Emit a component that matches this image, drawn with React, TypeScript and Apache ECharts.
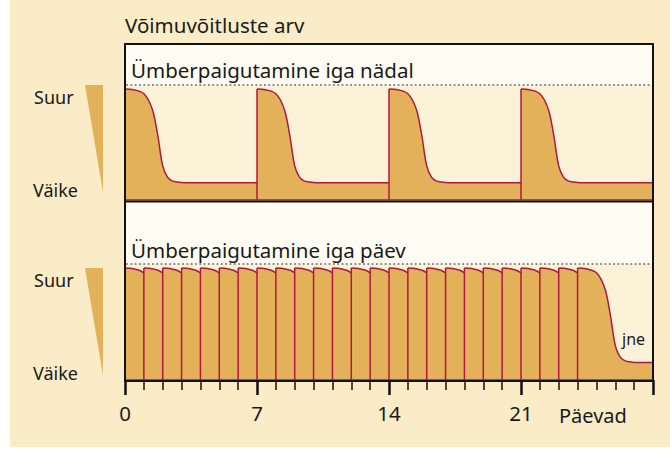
import React, { useEffect, useRef } from 'react';
import * as echarts from 'echarts';

// ---- data ----
const TITLE = 'Võimuvõitluste arv';
const PANEL_TITLES = ['Ümberpaigutamine iga nädal', 'Ümberpaigutamine iga päev'];
const LEVEL_HIGH_LABEL = 'Suur';
const LEVEL_LOW_LABEL = 'Väike';
const X_NAME = 'Päevad';
const ETC_LABEL = 'jne';

const DAY_MIN = 0;
const DAY_MAX = 28;
const DAY_INTERVAL = 7;
const TICK_LABELS = [0, 7, 14, 21];

// relocation days
const WEEKLY_STARTS = [0, 7, 14, 21];
const DAILY_STARTS = [0, 1, 2, 3, 4, 5, 6, 7, 8, 9, 10, 11, 12, 13, 14, 15, 16, 17, 18, 19, 20, 21, 22, 23, 24];

// number of power struggles (relative scale 0..100)
const HIGH = 96.5;
const LOW = 15;
// fraction of (HIGH-LOW) remaining, sampled every DECAY_STEP days after a relocation
const DECAY_STEP = 0.25;
const DECAY = [1, 0.998, 0.99, 0.977, 0.95, 0.88, 0.75, 0.49, 0.18, 0.06, 0.02, 0.008, 0.002, 0];

// ---- styles ----
const FONT = "'Noto Sans', sans-serif";
const TXT = '#1a1a1a';
const CARD = '#F9ECC6';
const HEADER = '#FFFCF3';
const PLOT = '#FBF2D8';
const FILL = '#E3B15A';
const RED = '#B3173F';

const GAP: any = ['-', '-'];

function decayCurves(starts: number[], end: number) {
  const pts: any[] = [];
  starts.forEach((s, i) => {
    const next = i + 1 < starts.length ? starts[i + 1] : end;
    let lastT = s;
    let lastV = HIGH;
    for (let k = 0; k < DECAY.length; k++) {
      const t = s + k * DECAY_STEP;
      if (t > next + 1e-9) break;
      lastT = t;
      lastV = LOW + (HIGH - LOW) * DECAY[k];
      pts.push([t, lastV]);
    }
    if (lastT < next) pts.push([next, lastV]);
    pts.push(GAP);
  });
  return pts;
}

function risers(starts: number[]) {
  const pts: any[] = [];
  starts.forEach((s) => {
    pts.push([s, 0], [s, HIGH], GAP);
  });
  return pts;
}

export default function App() {
  const ref = useRef<HTMLDivElement>(null);
  useEffect(() => {
    const chart = echarts.init(ref.current!, null, { renderer: 'svg' });
    const L = 125;
    const W = 528;
    const grids = [
      { left: L, top: 85, width: W, height: 115 },
      { left: L, top: 264, width: W, height: 116 },
    ];
    const curveSeries = (idx: number, starts: number[]) => [
      {
        type: 'line',
        xAxisIndex: idx,
        yAxisIndex: idx,
        data: decayCurves(starts, DAY_MAX),
        smooth: 0.35,
        showSymbol: false,
        connectNulls: false,
        lineStyle: { color: RED, width: 1.5 },
        areaStyle: { color: FILL, opacity: 1 },
        z: 3,
      },
      {
        type: 'line',
        xAxisIndex: idx,
        yAxisIndex: idx,
        data: risers(starts),
        showSymbol: false,
        connectNulls: false,
        lineStyle: { color: RED, width: 1.5 },
        z: 4,
      },
      {
        type: 'line',
        xAxisIndex: idx,
        yAxisIndex: idx,
        data: [[DAY_MIN, 0], [DAY_MAX, 0]],
        showSymbol: false,
        lineStyle: { color: RED, width: 1.5 },
        z: 4,
      },
    ];

    const textEl = (text: string, x: number, y: number, size: number, extra: any = {}) => ({
      type: 'text',
      x,
      y,
      z: 70,
      style: { text, fill: TXT, font: `${size}px ${FONT}`, textVerticalAlign: 'middle', verticalAlign: 'middle', ...extra },
    });

    const option: any = {
      animation: false,
      grid: grids,
      xAxis: [
        { gridIndex: 0, type: 'value', min: DAY_MIN, max: DAY_MAX, interval: DAY_INTERVAL, show: false },
        {
          gridIndex: 1,
          type: 'value',
          min: DAY_MIN,
          max: DAY_MAX,
          interval: DAY_INTERVAL,
          offset: 1.5,
          axisLine: { show: true, lineStyle: { color: '#111', width: 2 } },
          axisTick: { show: true, length: 15, lineStyle: { color: '#111', width: 2.5 } },
          minorTick: { show: true, splitNumber: 7, length: 10, lineStyle: { color: '#111', width: 1.5 } },
          splitLine: { show: false },
          axisLabel: {
            margin: 21,
            fontSize: 20.5,
            fontFamily: FONT,
            color: TXT,
            formatter: (v: number) => (TICK_LABELS.includes(v) ? String(v) : ''),
          },
        },
      ],
      yAxis: [
        { gridIndex: 0, type: 'value', min: 0, max: 100, show: false },
        { gridIndex: 1, type: 'value', min: 0, max: 100, show: false },
      ],
      series: [...curveSeries(0, WEEKLY_STARTS), ...curveSeries(1, DAILY_STARTS)],
      graphic: {
        elements: [
          { type: 'rect', z: -10, shape: { x: 10, y: 0, width: 660, height: 447 }, style: { fill: CARD } },
          { type: 'rect', z: -9, shape: { x: L, y: 44, width: W, height: 41 }, style: { fill: HEADER } },
          { type: 'rect', z: -9, shape: { x: L, y: 202, width: W, height: 62 }, style: { fill: HEADER } },
          { type: 'rect', z: -9, shape: { x: L, y: 85, width: W, height: 115 }, style: { fill: PLOT } },
          { type: 'rect', z: -9, shape: { x: L, y: 264, width: W, height: 116 }, style: { fill: PLOT } },
          {
            type: 'line', z: 50, shape: { x1: L + 2, y1: 85, x2: L + W, y2: 85 },
            style: { stroke: '#808080', lineWidth: 2.2, lineDash: [0.01, 4.3], lineCap: 'round' },
          },
          {
            type: 'line', z: 50, shape: { x1: L + 2, y1: 264, x2: L + W, y2: 264 },
            style: { stroke: '#808080', lineWidth: 2.2, lineDash: [0.01, 4.3], lineCap: 'round' },
          },
          { type: 'rect', z: 60, shape: { x: L, y: 44, width: W, height: 337 }, style: { fill: 'none', stroke: '#111', lineWidth: 2 } },
          { type: 'line', z: 60, shape: { x1: L, y1: 201.5, x2: L + W, y2: 201.5 }, style: { stroke: '#111', lineWidth: 2 } },
          { type: 'polygon', z: 5, shape: { points: [[85, 85], [103, 85], [103, 192]] }, style: { fill: FILL } },
          { type: 'polygon', z: 5, shape: { points: [[85, 268], [103, 268], [103, 375]] }, style: { fill: FILL } },
          textEl(TITLE, 125, 25, 20.5),
          textEl(PANEL_TITLES[0], 131, 70, 20.5),
          textEl(PANEL_TITLES[1], 131, 250, 20.5),
          textEl(LEVEL_HIGH_LABEL, 34, 97, 18),
          textEl(LEVEL_LOW_LABEL, 33, 190, 18),
          textEl(LEVEL_HIGH_LABEL, 34, 280, 18),
          textEl(LEVEL_LOW_LABEL, 33, 373, 18),
          textEl(ETC_LABEL, 622, 339, 16),
          textEl(X_NAME, 559, 415, 20),
        ],
      },
    };
    chart.setOption(option);
    return () => chart.dispose();
  }, []);
  return (
    <div
      ref={ref}
      style={{ position: 'fixed', left: 0, top: 0, width: 670, height: 453, background: '#ffffff' }}
    />
  );
}
